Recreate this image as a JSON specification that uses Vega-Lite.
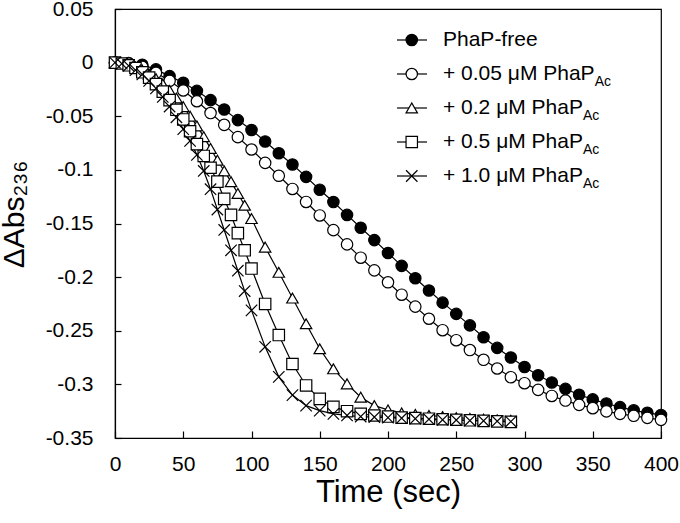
{
  "$schema": "https://vega.github.io/schema/vega-lite/v6.json",
  "width": 546,
  "height": 429,
  "autosize": {"type": "none"},
  "padding": {"left": 115, "top": 9, "right": 19, "bottom": 85},
  "background": "white",
  "config": {
    "view": {"stroke": "#000", "strokeWidth": 1.2},
    "font": "Liberation Sans",
    "axis": {
      "grid": false,
      "domainColor": "#000",
      "domainWidth": 1.2,
      "tickColor": "#000",
      "tickWidth": 1.2,
      "labelColor": "#000",
      "labelFont": "Liberation Sans",
      "labelFontSize": 21,
      "titleColor": "#000",
      "titleFont": "Liberation Sans",
      "titleFontSize": 30,
      "titleFontWeight": "normal",
      "labelOverlap": false,
      "labelFlush": false
    }
  },
  "datasets": {
    "curves": [
      {"s":"free","t":0,"v":0},{"s":"free","t":10,"v":-0.0005},{"s":"free","t":20,"v":-0.002},{"s":"free","t":30,"v":-0.0063},{"s":"free","t":40,"v":-0.0126},{"s":"free","t":50,"v":-0.0188},{"s":"free","t":60,"v":-0.0263},{"s":"free","t":70,"v":-0.035},{"s":"free","t":80,"v":-0.0437},{"s":"free","t":90,"v":-0.0536},{"s":"free","t":100,"v":-0.0628},{"s":"free","t":110,"v":-0.0735},{"s":"free","t":120,"v":-0.0845},{"s":"free","t":130,"v":-0.095},{"s":"free","t":140,"v":-0.1065},{"s":"free","t":150,"v":-0.1185},{"s":"free","t":160,"v":-0.13},{"s":"free","t":170,"v":-0.142},{"s":"free","t":180,"v":-0.154},{"s":"free","t":190,"v":-0.1655},{"s":"free","t":200,"v":-0.1775},{"s":"free","t":210,"v":-0.1895},{"s":"free","t":220,"v":-0.201},{"s":"free","t":230,"v":-0.2125},{"s":"free","t":240,"v":-0.2238},{"s":"free","t":250,"v":-0.2343},{"s":"free","t":260,"v":-0.245},{"s":"free","t":270,"v":-0.256},{"s":"free","t":280,"v":-0.266},{"s":"free","t":290,"v":-0.275},{"s":"free","t":300,"v":-0.2838},{"s":"free","t":310,"v":-0.2915},{"s":"free","t":320,"v":-0.2982},{"s":"free","t":330,"v":-0.3042},{"s":"free","t":340,"v":-0.3097},{"s":"free","t":350,"v":-0.314},{"s":"free","t":360,"v":-0.3178},{"s":"free","t":370,"v":-0.3212},{"s":"free","t":380,"v":-0.3242},{"s":"free","t":390,"v":-0.3265},{"s":"free","t":400,"v":-0.3285},
      {"s":"c005","t":0,"v":0},{"s":"c005","t":10,"v":-0.0008},{"s":"c005","t":20,"v":-0.004},{"s":"c005","t":30,"v":-0.0095},{"s":"c005","t":40,"v":-0.017},{"s":"c005","t":50,"v":-0.026},{"s":"c005","t":60,"v":-0.036},{"s":"c005","t":70,"v":-0.047},{"s":"c005","t":80,"v":-0.058},{"s":"c005","t":90,"v":-0.0695},{"s":"c005","t":100,"v":-0.081},{"s":"c005","t":110,"v":-0.0935},{"s":"c005","t":120,"v":-0.1055},{"s":"c005","t":130,"v":-0.1178},{"s":"c005","t":140,"v":-0.1299},{"s":"c005","t":150,"v":-0.1425},{"s":"c005","t":160,"v":-0.1562},{"s":"c005","t":170,"v":-0.1695},{"s":"c005","t":180,"v":-0.1819},{"s":"c005","t":190,"v":-0.1937},{"s":"c005","t":200,"v":-0.2048},{"s":"c005","t":210,"v":-0.2164},{"s":"c005","t":220,"v":-0.2275},{"s":"c005","t":230,"v":-0.2388},{"s":"c005","t":240,"v":-0.2495},{"s":"c005","t":250,"v":-0.2588},{"s":"c005","t":260,"v":-0.268},{"s":"c005","t":270,"v":-0.2771},{"s":"c005","t":280,"v":-0.2852},{"s":"c005","t":290,"v":-0.2933},{"s":"c005","t":300,"v":-0.2989},{"s":"c005","t":310,"v":-0.3051},{"s":"c005","t":320,"v":-0.3108},{"s":"c005","t":330,"v":-0.3151},{"s":"c005","t":340,"v":-0.3191},{"s":"c005","t":350,"v":-0.3222},{"s":"c005","t":360,"v":-0.3252},{"s":"c005","t":370,"v":-0.3275},{"s":"c005","t":380,"v":-0.3293},{"s":"c005","t":390,"v":-0.3312},{"s":"c005","t":400,"v":-0.3331},
      {"s":"c02","t":0,"v":0},{"s":"c02","t":5,"v":-0.0005},{"s":"c02","t":10,"v":-0.002},{"s":"c02","t":15,"v":-0.004},{"s":"c02","t":20,"v":-0.007},{"s":"c02","t":25,"v":-0.011},{"s":"c02","t":30,"v":-0.015},{"s":"c02","t":35,"v":-0.02},{"s":"c02","t":40,"v":-0.026},{"s":"c02","t":45,"v":-0.033},{"s":"c02","t":50,"v":-0.041},{"s":"c02","t":55,"v":-0.05},{"s":"c02","t":60,"v":-0.059},{"s":"c02","t":65,"v":-0.069},{"s":"c02","t":70,"v":-0.08},{"s":"c02","t":75,"v":-0.091},{"s":"c02","t":80,"v":-0.101},{"s":"c02","t":85,"v":-0.111},{"s":"c02","t":90,"v":-0.122},{"s":"c02","t":95,"v":-0.133},{"s":"c02","t":100,"v":-0.1454},{"s":"c02","t":110,"v":-0.172},{"s":"c02","t":120,"v":-0.1955},{"s":"c02","t":130,"v":-0.2195},{"s":"c02","t":140,"v":-0.2435},{"s":"c02","t":150,"v":-0.2668},{"s":"c02","t":160,"v":-0.2855},{"s":"c02","t":170,"v":-0.2995},{"s":"c02","t":180,"v":-0.312},{"s":"c02","t":190,"v":-0.3198},{"s":"c02","t":200,"v":-0.3238},{"s":"c02","t":210,"v":-0.3266},{"s":"c02","t":220,"v":-0.328},{"s":"c02","t":230,"v":-0.329},{"s":"c02","t":240,"v":-0.33},{"s":"c02","t":250,"v":-0.331},{"s":"c02","t":260,"v":-0.3318},{"s":"c02","t":270,"v":-0.3325},{"s":"c02","t":280,"v":-0.333},{"s":"c02","t":290,"v":-0.3335},
      {"s":"c05","t":0,"v":0},{"s":"c05","t":5,"v":-0.0008},{"s":"c05","t":10,"v":-0.0025},{"s":"c05","t":15,"v":-0.005},{"s":"c05","t":20,"v":-0.009},{"s":"c05","t":25,"v":-0.014},{"s":"c05","t":30,"v":-0.02},{"s":"c05","t":35,"v":-0.027},{"s":"c05","t":40,"v":-0.035},{"s":"c05","t":45,"v":-0.044},{"s":"c05","t":50,"v":-0.053},{"s":"c05","t":55,"v":-0.064},{"s":"c05","t":60,"v":-0.076},{"s":"c05","t":65,"v":-0.087},{"s":"c05","t":70,"v":-0.098},{"s":"c05","t":75,"v":-0.111},{"s":"c05","t":80,"v":-0.127},{"s":"c05","t":85,"v":-0.142},{"s":"c05","t":90,"v":-0.159},{"s":"c05","t":95,"v":-0.175},{"s":"c05","t":100,"v":-0.192},{"s":"c05","t":110,"v":-0.225},{"s":"c05","t":120,"v":-0.254},{"s":"c05","t":130,"v":-0.281},{"s":"c05","t":140,"v":-0.301},{"s":"c05","t":150,"v":-0.3135},{"s":"c05","t":160,"v":-0.321},{"s":"c05","t":170,"v":-0.325},{"s":"c05","t":180,"v":-0.3275},{"s":"c05","t":190,"v":-0.329},{"s":"c05","t":200,"v":-0.33},{"s":"c05","t":210,"v":-0.331},{"s":"c05","t":220,"v":-0.3315},{"s":"c05","t":230,"v":-0.332},{"s":"c05","t":240,"v":-0.3325},{"s":"c05","t":250,"v":-0.333},{"s":"c05","t":260,"v":-0.3335},{"s":"c05","t":270,"v":-0.334},{"s":"c05","t":280,"v":-0.3345},{"s":"c05","t":290,"v":-0.335},
      {"s":"c10","t":0,"v":0},{"s":"c10","t":5,"v":-0.001},{"s":"c10","t":10,"v":-0.003},{"s":"c10","t":15,"v":-0.007},{"s":"c10","t":20,"v":-0.011},{"s":"c10","t":25,"v":-0.017},{"s":"c10","t":30,"v":-0.024},{"s":"c10","t":35,"v":-0.032},{"s":"c10","t":40,"v":-0.041},{"s":"c10","t":45,"v":-0.051},{"s":"c10","t":50,"v":-0.062},{"s":"c10","t":55,"v":-0.073},{"s":"c10","t":60,"v":-0.086},{"s":"c10","t":65,"v":-0.101},{"s":"c10","t":70,"v":-0.118},{"s":"c10","t":75,"v":-0.137},{"s":"c10","t":80,"v":-0.156},{"s":"c10","t":85,"v":-0.175},{"s":"c10","t":90,"v":-0.194},{"s":"c10","t":95,"v":-0.213},{"s":"c10","t":100,"v":-0.231},{"s":"c10","t":110,"v":-0.265},{"s":"c10","t":120,"v":-0.293},{"s":"c10","t":130,"v":-0.31},{"s":"c10","t":140,"v":-0.3198},{"s":"c10","t":150,"v":-0.3245},{"s":"c10","t":160,"v":-0.3275},{"s":"c10","t":170,"v":-0.329},{"s":"c10","t":180,"v":-0.33},{"s":"c10","t":190,"v":-0.3305},{"s":"c10","t":200,"v":-0.331},{"s":"c10","t":210,"v":-0.3315},{"s":"c10","t":220,"v":-0.332},{"s":"c10","t":230,"v":-0.3325},{"s":"c10","t":240,"v":-0.333},{"s":"c10","t":250,"v":-0.3333},{"s":"c10","t":260,"v":-0.3337},{"s":"c10","t":270,"v":-0.334},{"s":"c10","t":280,"v":-0.3343},{"s":"c10","t":290,"v":-0.3347}
    ],
    "legend": [
      {"s":"free","label":"PhaP-free","sub":""},
      {"s":"c005","label":"+ 0.05 μM PhaP","sub":"Ac"},
      {"s":"c02","label":"+ 0.2 μM PhaP","sub":"Ac"},
      {"s":"c05","label":"+ 0.5 μM PhaP","sub":"Ac"},
      {"s":"c10","label":"+ 1.0 μM PhaP","sub":"Ac"}
    ]
  },
  "layer": [
    {
      "data": {"name": "curves"},
      "layer": [
        {
          "mark": {"type": "line", "color": "#000", "strokeWidth": 1.2},
          "encoding": {
            "x": {"field": "t", "type": "quantitative", "scale": {"domain": [0, 400], "nice": false, "zero": false},
              "axis": {"title": "Time (sec)", "values": [0,50,100,150,200,250,300,350,400], "tickSize": -7, "labelPadding": 22, "titleBaseline": "alphabetic", "titleY": 63, "titleFontSize": 31}},
            "y": {"field": "v", "type": "quantitative", "scale": {"domain": [-0.35, 0.05], "nice": false, "zero": false},
              "axis": {"title": "ΔAbs₂₃₆", "values": [-0.35,-0.3,-0.25,-0.2,-0.15,-0.1,-0.05,0,0.05], "tickSize": -6, "labelPadding": 28,
                "labelExpr": "'' + round(datum.value*100)/100", "titleX": -92, "titleY": 205, "titleBaseline": "alphabetic", "titleAlign": "center", "titleAngle": -90}},
            "detail": {"field": "s", "type": "nominal"}
          }
        },
        {
          "mark": {"type": "point", "stroke": "#000", "strokeWidth": 1.2, "opacity": 1, "fillOpacity": 1},
          "encoding": {
            "x": {"field": "t", "type": "quantitative"},
            "y": {"field": "v", "type": "quantitative"},
            "shape": {"field": "s", "type": "nominal", "scale": {"domain": ["free","c005","c02","c05","c10"], "range": ["circle","circle","triangle-up","square","M-1,-1L1,1M-1,1L1,-1"]}, "legend": null},
            "fill": {"field": "s", "type": "nominal", "scale": {"domain": ["free","c005","c02","c05","c10"], "range": ["#000","#fff","#fff","#fff","transparent"]}, "legend": null},
            "size": {"field": "s", "type": "nominal", "scale": {"domain": ["free","c005","c02","c05","c10"], "range": [130,130,170,121,100]}, "legend": null}
          }
        }
      ]
    },
    {
      "data": {"name": "legend"},
      "layer": [
        {
          "mark": {"type": "rule", "color": "#000", "strokeWidth": 1.2},
          "encoding": {
            "x": {"datum": 206.6, "type": "quantitative"},
            "x2": {"datum": 228.6},
            "y": {"field": "s", "type": "nominal", "scale": {"type": "point", "domain": ["free","c005","c02","c05","c10"], "range": [31, 167], "padding": 0}, "axis": null}
          }
        },
        {
          "mark": {"type": "point", "stroke": "#000", "strokeWidth": 1.2, "opacity": 1, "fillOpacity": 1},
          "encoding": {
            "x": {"datum": 217.4, "type": "quantitative"},
            "y": {"field": "s", "type": "nominal"},
            "shape": {"field": "s", "type": "nominal", "legend": null},
            "fill": {"field": "s", "type": "nominal", "legend": null},
            "size": {"field": "s", "type": "nominal", "legend": null}
          }
        },
        {
          "mark": {"type": "text", "align": "left", "baseline": "middle", "fontSize": 21, "font": "Liberation Sans", "color": "#000"},
          "encoding": {
            "x": {"datum": 240.3, "type": "quantitative"},
            "y": {"field": "s", "type": "nominal"},
            "text": {"field": "label"}
          }
        },
        {
          "transform": [{"filter": "datum.s == 'c005'"}],
          "mark": {"type": "text", "align": "left", "baseline": "middle", "fontSize": 14, "font": "Liberation Sans", "color": "#000", "dy": 8},
          "encoding": {
            "x": {"datum": 351.4, "type": "quantitative"},
            "y": {"field": "s", "type": "nominal"},
            "text": {"field": "sub"}
          }
        },
        {
          "transform": [{"filter": "datum.s == 'c02' || datum.s == 'c05' || datum.s == 'c10'"}],
          "mark": {"type": "text", "align": "left", "baseline": "middle", "fontSize": 14, "font": "Liberation Sans", "color": "#000", "dy": 8},
          "encoding": {
            "x": {"datum": 342.8, "type": "quantitative"},
            "y": {"field": "s", "type": "nominal"},
            "text": {"field": "sub"}
          }
        }
      ]
    }
  ],
  "resolve": {"scale": {"y": "independent"}, "axis": {"y": "independent"}}
}
